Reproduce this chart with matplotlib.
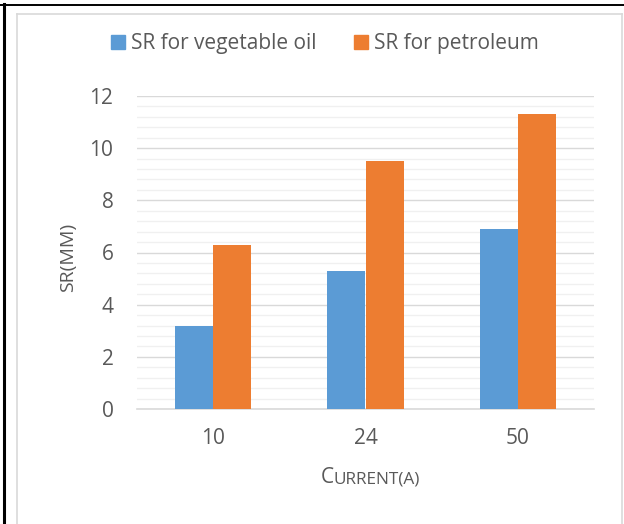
import matplotlib
matplotlib.use("Agg")
import matplotlib.pyplot as plt
from matplotlib.lines import Line2D
from matplotlib.patches import Patch
import numpy as np

# surface roughness vs. current
currents = ["10", "24", "50"]
sr_veg_oil = [3.2, 5.3, 6.9]
sr_petroleum = [6.3, 9.5, 11.3]
series_names = ["SR for vegetable oil", "SR for petroleum"]

BLUE = "#5B9BD5"
ORANGE = "#ED7D31"
TEXT = "#595959"

plt.rcParams["font.family"] = ["Open Sans", "DejaVu Sans"]

W, H = 624, 524
fig = plt.figure(figsize=(W / 100, H / 100), dpi=100)

# table cell borders around the chart
fig.add_artist(Line2D([4 / W, 4 / W], [0, 1 - 4 / H], color="black", lw=2.2))
fig.add_artist(Line2D([0, 1], [1 - 5 / H, 1 - 5 / H], color="black", lw=1.4))
# chart area frame
fig.add_artist(Line2D([17 / W, 17 / W], [0, 1 - 14 / H], color="#D9D9D9", lw=1.2))
fig.add_artist(Line2D([17 / W, 622 / W], [1 - 14 / H, 1 - 14 / H], color="#D9D9D9", lw=1.2))
fig.add_artist(Line2D([622 / W, 622 / W], [0, 1 - 14 / H], color="#D9D9D9", lw=1.2))

ax = fig.add_axes([137 / W, (H - 409) / H, (594 - 137) / W, (409 - 96) / H])

x = np.arange(len(currents))
width = 0.25
ax.bar(x - width / 2, sr_veg_oil, width, color=BLUE, zorder=3)
ax.bar(x + width / 2, sr_petroleum, width, color=ORANGE, zorder=3)

ax.set_xlim(-0.5, len(currents) - 0.5)
ax.set_ylim(0, 12)
ax.set_yticks(np.arange(0, 13, 2))
ax.set_yticks(np.arange(0, 12.01, 0.4), minor=True)
ax.set_xticks(x)
ax.set_xticklabels(currents)

ax.grid(axis="y", which="major", color="#D9D9D9", lw=1.0, zorder=0)
ax.grid(axis="y", which="minor", color="#F0F0F0", lw=1.0, zorder=0)
ax.grid(axis="x", visible=False)

for side in ["top", "right", "left"]:
    ax.spines[side].set_visible(False)
ax.spines["bottom"].set_color("#D9D9D9")
ax.spines["bottom"].set_linewidth(1.2)

ax.tick_params(axis="both", which="both", length=0, labelsize=15, colors=TEXT)
ax.tick_params(axis="y", pad=17)
ax.tick_params(axis="x", pad=14)

# y axis title
fig.text(68 / W, 1 - 257 / H, "SR(MM)", rotation=90, ha="center", va="center",
         fontsize=14, color=TEXT)

# x axis title in small caps: large initial, smaller remainder
fig.canvas.draw()
renderer = fig.canvas.get_renderer()
big = fig.text(0, 1 - 483 / H, "C", fontsize=15, color=TEXT, ha="left", va="baseline")
rest = fig.text(0, 1 - 483 / H, "URRENT(A)", fontsize=12.4, color=TEXT, ha="left", va="baseline")
w_big = big.get_window_extent(renderer).width
w_rest = rest.get_window_extent(renderer).width
x0 = 370 - (w_big + w_rest) / 2
big.set_x(x0 / W)
rest.set_x((x0 + w_big) / W)

handles = [Patch(color=BLUE), Patch(color=ORANGE)]
fig.legend(handles, series_names, loc="center", bbox_to_anchor=(325 / W, 1 - 44 / H),
           ncol=2, frameon=False, fontsize=15, labelcolor=TEXT,
           handlelength=0.65, handleheight=0.65, handletextpad=0.3, columnspacing=1.8)

fig.savefig("out.png", dpi=100, facecolor="white")
